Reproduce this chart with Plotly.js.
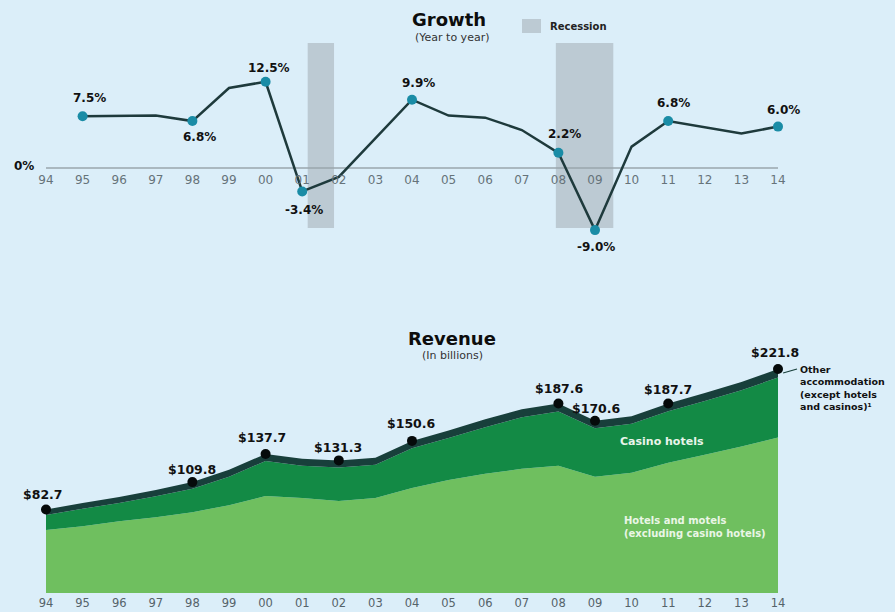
<!DOCTYPE html>
<html>
<head>
<meta charset="utf-8">
<script src="https://cdn.plot.ly/plotly-3.0.1.min.js"></script>
<style>html,body{margin:0;padding:0;background:#dbeef9;}#chart{width:895px;height:612px;}</style>
</head>
<body>
<div id="chart"></div>
<script>
// ---- Data ----
var years = [1994,1995,1996,1997,1998,1999,2000,2001,2002,2003,2004,2005,2006,2007,2008,2009,2010,2011,2012,2013,2014];
var tickLabels = ["94","95","96","97","98","99","00","01","02","03","04","05","06","07","08","09","10","11","12","13","14"];

var growthYears = [1995,1996,1997,1998,1999,2000,2001,2002,2003,2004,2005,2006,2007,2008,2009,2010,2011,2012,2013,2014];
var growthVals  = [7.5,7.5,7.6,6.8,11.6,12.5,-3.4,-1.3,4.3,9.9,7.6,7.3,5.5,2.2,-9.0,3.1,6.8,5.9,5.0,6.0];
var growthMarkYears = [1995,1998,2000,2001,2004,2008,2009,2011,2014];
var growthMarkVals  = [7.5,6.8,12.5,-3.4,9.9,2.2,-9.0,6.8,6.0];
var growthMarkText  = ["7.5%","6.8%","12.5%","-3.4%","9.9%","2.2%","-9.0%","6.8%","6.0%"];

var recessionStart = [2001.15, 2007.93];
var recessionEnd   = [2001.87, 2009.50];

var hotelsMotels = [62.4,66,71,75,80,87,96,94,91,94,104,112,118,123,126,115,119,129,137,145,154];
var casinoHotels = [14.8,17.3,18,20.8,23.3,28.2,34.7,32,33.3,33,39.4,41.5,46.2,51,53.6,48.1,48.5,50.9,53,55.8,59.3];
var otherAccom   = [5.5,5.7,6,6.2,6.5,6.8,7,7,7,7,7.2,7.5,7.8,8,8,7.5,7.5,7.8,8,8.2,8.5];

var revMarkYears = [1994,1998,2000,2002,2004,2008,2009,2011,2014];
var revMarkVals  = [82.7,109.8,137.7,131.3,150.6,187.6,170.6,187.7,221.8];
var revMarkText  = ["$82.7","$109.8","$137.7","$131.3","$150.6","$187.6","$170.6","$187.7","$221.8"];

// ---- Styling ----
var FONT = "DejaVu Sans";
var growthShift = [[7,18],[7,-16],[3,14],[2,-19],[6,17],[6,19],[1,-17],[5,18],[5,17]];
var revShift = [[-3,15],[0,13],[-4,16],[-1,13],[-1,17],[1,15],[1,12],[0,14],[-3,16]];

var traces = [
  {x: years, y: hotelsMotels, stackgroup: 'rev', mode: 'none', fillcolor: '#6fbf5f', xaxis: 'x', yaxis: 'y', hoverinfo: 'skip'},
  {x: years, y: casinoHotels, stackgroup: 'rev', mode: 'none', fillcolor: '#138a45', xaxis: 'x', yaxis: 'y', hoverinfo: 'skip'},
  {x: years, y: otherAccom, stackgroup: 'rev', mode: 'none', fillcolor: '#183f3b', xaxis: 'x', yaxis: 'y', hoverinfo: 'skip'},
  {x: revMarkYears, y: revMarkVals, mode: 'markers', marker: {color: '#050a0a', size: 10}, xaxis: 'x', yaxis: 'y', hoverinfo: 'skip'},
  {x: growthYears, y: growthVals, mode: 'lines', line: {color: '#1e3a3c', width: 2.5}, xaxis: 'x2', yaxis: 'y2', hoverinfo: 'skip'},
  {x: growthMarkYears, y: growthMarkVals, mode: 'markers', marker: {color: '#1a8ca6', size: 10}, xaxis: 'x2', yaxis: 'y2', hoverinfo: 'skip'}
];

var shapes = [];
for (var i = 0; i < recessionStart.length; i++) {
  shapes.push({type: 'rect', xref: 'x2', yref: 'y2', x0: recessionStart[i], x1: recessionEnd[i], y0: -8.7, y1: 18.1,
    fillcolor: '#bccad3', line: {width: 0}, layer: 'below'});
}
shapes.push({type: 'line', xref: 'x2', yref: 'y2', x0: 1994, x1: 2014, y0: 0, y1: 0, line: {color: '#9aa6ad', width: 1.5}, layer: 'below'});
shapes.push({type: 'rect', xref: 'paper', yref: 'paper', x0: 522/895, x1: 541/895, y0: 1-33/612, y1: 1-19/612, fillcolor: '#bccad3', line: {width: 0}});
shapes.push({type: 'line', xref: 'x', yref: 'y', x0: 2014.14, x1: 2014.52, y0: 217.8, y1: 221.8, line: {color: '#183f3b', width: 1.2}});

var annotations = [];
for (var j = 0; j < growthMarkYears.length; j++) {
  annotations.push({x: growthMarkYears[j], y: growthMarkVals[j], xref: 'x2', yref: 'y2', text: '<b>' + growthMarkText[j] + '</b>',
    showarrow: false, xanchor: 'center', yanchor: 'middle', xshift: growthShift[j][0], yshift: growthShift[j][1], font: {family: FONT, size: 12, color: '#111'}});
}
for (var k = 0; k < revMarkYears.length; k++) {
  annotations.push({x: revMarkYears[k], y: revMarkVals[k], xref: 'x', yref: 'y', text: '<b>' + revMarkText[k] + '</b>',
    showarrow: false, xanchor: 'center', yanchor: 'middle', xshift: revShift[k][0], yshift: revShift[k][1], font: {family: FONT, size: 12.5, color: '#111'}});
}
annotations = annotations.concat([
  {xref: 'paper', yref: 'paper', x: 449/895, y: 1-19/612, xanchor: 'center', yanchor: 'middle', text: '<b>Growth</b>', showarrow: false, font: {family: FONT, size: 18, color: '#0d0d0d'}},
  {xref: 'paper', yref: 'paper', x: 452/895, y: 1-37/612, xanchor: 'center', yanchor: 'middle', text: '(Year to year)', showarrow: false, font: {family: FONT, size: 11, color: '#333'}},
  {xref: 'paper', yref: 'paper', x: 452/895, y: 1-338/612, xanchor: 'center', yanchor: 'middle', text: '<b>Revenue</b>', showarrow: false, font: {family: FONT, size: 18, color: '#0d0d0d'}},
  {xref: 'paper', yref: 'paper', x: 452/895, y: 1-355/612, xanchor: 'center', yanchor: 'middle', text: '(In billions)', showarrow: false, font: {family: FONT, size: 11, color: '#333'}},
  {xref: 'paper', yref: 'paper', x: 548/895, y: 1-27/612, xanchor: 'left', yanchor: 'middle', text: '<b>Recession</b>', showarrow: false, font: {family: FONT, size: 10, color: '#222'}},
  {xref: 'paper', yref: 'y2', x: 12/895, y: 0, xanchor: 'left', yanchor: 'middle', yshift: 2, text: '<b>0%</b>', showarrow: false, font: {family: FONT, size: 12, color: '#111'}},
  {xref: 'x', yref: 'y', x: 2014, y: 221.8, xshift: 20, xanchor: 'left', yanchor: 'top', yshift: 7, align: 'left',
    text: '<b>Other<br>accommodation<br>(except hotels<br>and casinos)¹</b>', showarrow: false, font: {family: FONT, size: 9.5, color: '#111'}},
  {xref: 'x', yref: 'y', x: 2010.83, y: 150.5, xanchor: 'center', yanchor: 'middle', text: '<b>Casino hotels</b>', showarrow: false, font: {family: FONT, size: 11, color: '#e8f5ea'}},
  {xref: 'x', yref: 'y', x: 2009.74, y: 65.3, xanchor: 'left', yanchor: 'middle', align: 'left', text: '<b>Hotels and motels<br>(excluding casino hotels)</b>', showarrow: false, font: {family: FONT, size: 10, color: '#eaf6e6'}}
]);

var xRange = [1994 - 46/36.6, 2014 + (895-778)/36.6];

var layout = {
  width: 895, height: 612,
  margin: {l: 0, r: 0, t: 0, b: 0},
  paper_bgcolor: '#dbeef9', plot_bgcolor: 'rgba(0,0,0,0)',
  showlegend: false,
  xaxis: {domain: [0, 1], range: xRange, anchor: 'y', tickvals: years, ticktext: tickLabels, ticks: '', ticklabelstandoff: 1, showgrid: false, zeroline: false, showline: false,
    tickfont: {family: FONT, size: 11.5, color: '#55636a'}, fixedrange: true},
  yaxis: {domain: [1-593/612, 1-300/612], range: [0, (593-300)/1.01], showticklabels: false, showgrid: false, zeroline: false, fixedrange: true},
  xaxis2: {domain: [0, 1], range: xRange, anchor: 'free', position: 1-168/612, tickvals: years, ticktext: tickLabels, ticks: '', ticklabelstandoff: 3, showgrid: false, zeroline: false, showline: false,
    tickfont: {family: FONT, size: 12, color: '#66737a'}, fixedrange: true},
  yaxis2: {domain: [1-260/612, 1], range: [-(260-168)/6.9, 168/6.9], showticklabels: false, showgrid: false, zeroline: false, fixedrange: true},
  shapes: shapes,
  annotations: annotations
};

Plotly.newPlot('chart', traces, layout, {displayModeBar: false, staticPlot: true});
</script>
</body>
</html>
